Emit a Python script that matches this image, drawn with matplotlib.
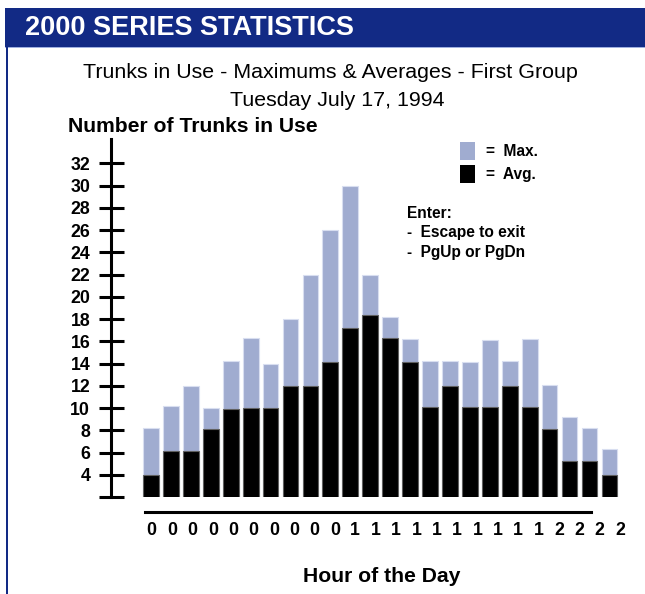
import numpy as np
import matplotlib
matplotlib.use('Agg')
import matplotlib.pyplot as plt
from matplotlib.patches import Rectangle

plt.rcParams['font.family'] = ['Liberation Sans', 'DejaVu Sans']

# Hourly trunk usage
hours = list(range(24))
hour_labels = [str(h // 10) for h in hours]
max_use = [8.2, 10.2, 12.0, 10.0, 14.2, 16.3, 14.0, 18.0, 22.0, 26.0, 30.0, 22.0,
           18.2, 16.2, 14.2, 14.2, 14.1, 16.1, 14.2, 16.2, 12.1, 9.2, 8.2, 6.3]
avg_use = [4.0, 6.1, 6.1, 8.1, 9.9, 10.0, 10.0, 12.0, 12.0, 14.1, 17.2, 18.4,
           16.3, 14.1, 10.1, 12.0, 10.1, 10.1, 12.0, 10.1, 8.1, 5.2, 5.2, 4.0]
y_ticks = list(range(2, 34, 2))

W, H = 645, 594
navy = '#122a85'
max_color = '#a0acd0'


def fx(x):
    return x / W


def fy(y):
    return 1 - y / H


fig = plt.figure(figsize=(W / 100, H / 100), dpi=100)

# header band and left frame line
fig.patches.append(Rectangle((fx(5), fy(47)), fx(640), 39 / H, transform=fig.transFigure,
                             facecolor=navy, edgecolor='none'))
fig.patches.append(Rectangle((fx(5), fy(48)), fx(640), 1.5 / H, transform=fig.transFigure,
                             facecolor='#9fb0e0', edgecolor='none'))
fig.patches.append(Rectangle((fx(6), 0), 2.3 / W, fy(47), transform=fig.transFigure,
                             facecolor=navy, edgecolor='none'))
fig.text(fx(25), fy(28), '2000 SERIES STATISTICS', color='white', fontsize=19.5,
         fontweight='bold', va='center', ha='left')

fig.text(fx(330), fy(73), 'Trunks in Use - Maximums & Averages - First Group',
         fontsize=15.4, ha='center', va='center')
fig.text(fx(337), fy(100), 'Tuesday July 17, 1994', fontsize=15.4, ha='center', va='center')
fig.text(fx(68), fy(127), 'Number of Trunks in Use', fontsize=15.2, fontweight='bold',
         ha='left', va='center')
fig.text(fx(382), fy(577), 'Hour of the Day', fontsize=15.2, fontweight='bold',
         ha='center', va='center')

# axes: spine at x=111px, baseline (2) at y=497px, top at y=139px
left, right, bottom, top = 111, 630, 497, 139
ax = fig.add_axes([fx(left), fy(bottom), (right - left) / W, (bottom - top) / H])
pitch = 19.93
ax.set_xlim(-(151 - left) / pitch, (right - 151) / pitch)
ax.set_ylim(2, 2 + (bottom - top) / 11.12)

x = np.arange(len(hours))
ax.bar(x, max_use, width=0.79, color=max_color, edgecolor='#d8def0', linewidth=0.8)
ax.bar(x, avg_use, width=0.79, color='black', edgecolor='#606060', linewidth=0.8)

for s in ['top', 'right']:
    ax.spines[s].set_visible(False)
ax.spines['left'].set_linewidth(2.2)
ax.spines['bottom'].set_linewidth(2.2)
ax.spines['bottom'].set_position(('outward', 11))
ax.spines['bottom'].set_bounds(-0.3, 22.1)

ax.set_yticks(y_ticks)
ax.set_yticklabels(['' if v == 2 else str(v) for v in y_ticks])
ax.tick_params(axis='y', direction='inout', length=18, width=2.2, pad=6,
               labelsize=12.8)
for lab in ax.get_yticklabels():
    lab.set_fontweight('bold')

ax.set_xticks(x * 1.0216 + 0.035)
ax.set_xticklabels(hour_labels)
ax.tick_params(axis='x', length=0, pad=7, labelsize=12.8)
for lab in ax.get_xticklabels():
    lab.set_fontweight('bold')

# legend and key help
fig.patches.append(Rectangle((fx(460), fy(159.5)), 15 / W, 17.5 / H, transform=fig.transFigure,
                             facecolor=max_color, edgecolor='none'))
fig.patches.append(Rectangle((fx(460), fy(182.5)), 15 / W, 17.5 / H, transform=fig.transFigure,
                             facecolor='black', edgecolor='none'))
fig.text(fx(486), fy(151), '=  Max.', fontsize=11.2, fontweight='bold', va='center')
fig.text(fx(486), fy(174), '=  Avg.', fontsize=11.2, fontweight='bold', va='center')
fig.text(fx(407), fy(213), 'Enter:', fontsize=11.2, fontweight='bold', va='center')
fig.text(fx(407), fy(232), '-  Escape to exit', fontsize=11.2, fontweight='bold', va='center')
fig.text(fx(407), fy(252), '-  PgUp or PgDn', fontsize=11.2, fontweight='bold', va='center')

fig.savefig('out.png', dpi=100)
